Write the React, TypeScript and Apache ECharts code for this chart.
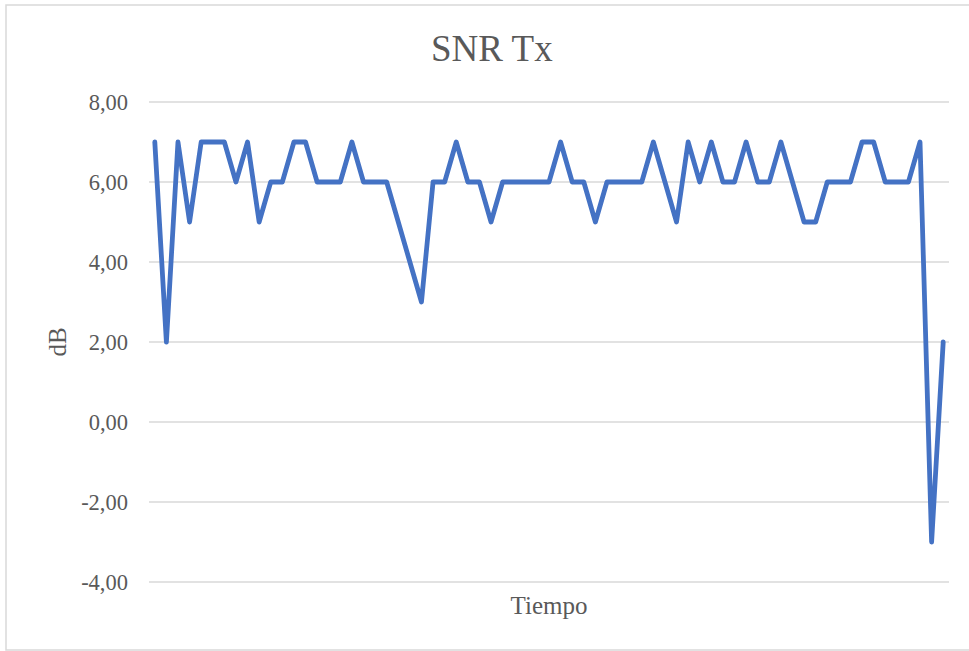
import React, { useEffect, useRef } from "react";
import * as echarts from "echarts";

const title = "SNR Tx";
const xAxisName = "Tiempo";
const yAxisName = "dB";
const yTicks = { min: -4, max: 8, interval: 2 };
const snrValues: number[] = [
  7, 2, 7, 5, 7, 7, 7, 6, 7, 5,
  6, 6, 7, 7, 6, 6, 6, 7, 6, 6,
  6, 5, 4, 3, 6, 6, 7, 6, 6, 5,
  6, 6, 6, 6, 6, 7, 6, 6, 5, 6,
  6, 6, 6, 7, 6, 5, 7, 6, 7, 6,
  6, 7, 6, 6, 7, 6, 5, 5, 6, 6,
  6, 7, 7, 6, 6, 6, 7, -3, 2,
];
const categories: string[] = snrValues.map((_, i) => String(i + 1));

const FONT = "'Liberation Serif', 'Times New Roman', serif";
const GREY = "#595959";

export default function App() {
  const ref = useRef<HTMLDivElement>(null);
  useEffect(() => {
    if (!ref.current) return;
    const chart = echarts.init(ref.current, undefined, { renderer: "svg" });
    chart.setOption({
      animation: false,
      backgroundColor: "#ffffff",
      title: {
        text: title,
        left: 426,
        top: 25,
        textStyle: { fontFamily: FONT, fontSize: 37, fontWeight: "normal", color: GREY },
      },
      grid: { left: 149, right: 20, top: 102, bottom: 69 },
      xAxis: {
        type: "category",
        data: categories,
        boundaryGap: true,
        name: xAxisName,
        nameLocation: "middle",
        nameGap: 11,
        nameTextStyle: { fontFamily: FONT, fontSize: 25, color: GREY },
        axisLine: { show: false },
        axisTick: { show: false },
        axisLabel: { show: false },
        splitLine: { show: false },
      },
      yAxis: {
        type: "value",
        min: yTicks.min,
        max: yTicks.max,
        interval: yTicks.interval,
        name: yAxisName,
        nameLocation: "middle",
        nameRotate: 90,
        nameGap: 78,
        nameTextStyle: { fontFamily: FONT, fontSize: 25, color: GREY },
        axisLine: { show: false },
        axisTick: { show: false },
        axisLabel: {
          fontFamily: FONT,
          fontSize: 22.5,
          color: GREY,
          margin: 21,
          formatter: (v: number) => v.toFixed(2).replace(".", ","),
        },
        splitLine: { lineStyle: { color: "#d9d9d9", width: 1.5 } },
      },
      graphic: [
        {
          type: "rect",
          shape: { x: 6, y: 5, width: 975, height: 645 },
          style: { fill: "none", stroke: "#d9d9d9", lineWidth: 1.5 },
          silent: true,
        },
      ],
      series: [
        {
          type: "line",
          data: snrValues,
          showSymbol: false,
          symbol: "none",
          lineStyle: { color: "#4472C4", width: 4.8, join: "round", cap: "round" },
          itemStyle: { color: "#4472C4" },
        },
      ],
    });
    return () => chart.dispose();
  }, []);
  return (
    <div
      ref={ref}
      style={{ position: "absolute", left: 0, top: 0, width: 969, height: 651 }}
    />
  );
}
